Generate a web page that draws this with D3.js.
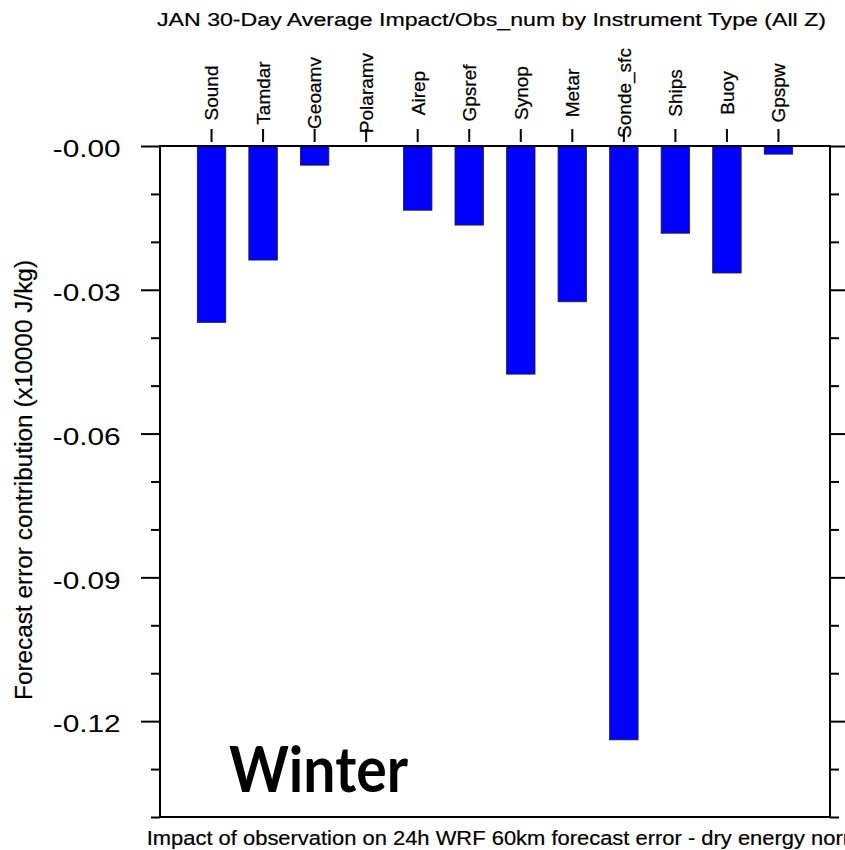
<!DOCTYPE html>
<html>
<head>
<meta charset="utf-8">
<script src="https://cdn.jsdelivr.net/npm/d3@7"></script>
<style>
  body { margin: 0; background: #fff; }
  text { font-family: "Liberation Sans", Arial, sans-serif; fill: #000; }
</style>
</head>
<body>
<div id="chart"></div>
<script>
// Data
const categories = ["Sound", "Tamdar", "Geoamv", "Polaramv", "Airep", "Gpsref",
                    "Synop", "Metar", "Sonde_sfc", "Ships", "Buoy", "Gpspw"];
const impacts = [-0.0368, -0.0238, -0.0040, 0.0, -0.0134, -0.0165,
                 -0.0476, -0.0325, -0.1239, -0.0182, -0.0265, -0.0017];
const yMajorTicks = [0, -0.03, -0.06, -0.09, -0.12];
const yMinorTicks = [-0.01, -0.02, -0.04, -0.05, -0.07, -0.08, -0.10, -0.11, -0.13, -0.14];

const titleText = "JAN 30-Day Average Impact/Obs_num by Instrument Type (All Z)";
const yLabelText = "Forecast error contribution (x10000 J/kg)";
const bottomText = "Impact of observation on 24h WRF 60km forecast error - dry energy norm";
const seasonText = "Winter";

// Plot frame
const W = 845, H = 850;
const frame = { left: 160, right: 830, top: 146, bottom: 817 };

const svg = d3.select("#chart")
    .append("svg")
    .attr("width", W)
    .attr("height", H);

// Scales
const x = d3.scaleBand()
    .domain(categories)
    .range([frame.left, frame.right])
    .paddingInner(0.447)
    .paddingOuter(0.7235);

const y = d3.scaleLinear()
    .domain([-0.14, 0])
    .range([frame.bottom, frame.top]);

// Bars
svg.append("g")
    .selectAll("rect")
    .data(categories.map((c, i) => ({ cat: c, val: impacts[i] })))
    .join("rect")
    .attr("x", d => x(d.cat))
    .attr("y", y(0))
    .attr("width", x.bandwidth())
    .attr("height", d => y(d.val) - y(0))
    .attr("fill", "#0000ff")
    .attr("stroke", "#222")
    .attr("stroke-width", 0.8);

// Frame
svg.append("rect")
    .attr("x", frame.left)
    .attr("y", frame.top)
    .attr("width", frame.right - frame.left)
    .attr("height", frame.bottom - frame.top)
    .attr("fill", "none")
    .attr("stroke", "#000")
    .attr("stroke-width", 2);

const fmt = d => "-" + d3.format(".2f")(Math.abs(d));

function styleAxis(g) {
    g.select(".domain").remove();
    g.selectAll(".tick line").attr("stroke", "#000").attr("stroke-width", 2);
}

// Left axis, major + minor
svg.append("g")
    .attr("transform", `translate(${frame.left},0)`)
    .call(d3.axisLeft(y).tickValues(yMajorTicks).tickSize(19).tickPadding(20.3).tickFormat(fmt))
    .call(styleAxis)
    .call(g => g.selectAll(".tick text")
        .attr("font-size", 24)
        .attr("font-family", "Liberation Sans, Arial, sans-serif")
        .attr("dy", "0.45em")
        .attr("textLength", 68)
        .attr("lengthAdjust", "spacingAndGlyphs"));

svg.append("g")
    .attr("transform", `translate(${frame.left},0)`)
    .call(d3.axisLeft(y).tickValues(yMinorTicks).tickSize(9).tickFormat(""))
    .call(styleAxis);

// Right axis, ticks only
svg.append("g")
    .attr("transform", `translate(${frame.right},0)`)
    .call(d3.axisRight(y).tickValues(yMajorTicks).tickSize(19).tickFormat(""))
    .call(styleAxis);

svg.append("g")
    .attr("transform", `translate(${frame.right},0)`)
    .call(d3.axisRight(y).tickValues(yMinorTicks).tickSize(9).tickFormat(""))
    .call(styleAxis);

// Top category ticks (detached from frame)
svg.append("g")
    .attr("transform", `translate(0,${frame.top - 4})`)
    .call(d3.axisTop(x).tickSize(13).tickFormat(""))
    .call(styleAxis);

// Top category labels, rotated
svg.append("g")
    .selectAll("text")
    .data(categories)
    .join("text")
    .attr("transform", d => `translate(${x(d) + x.bandwidth() / 2},93) rotate(-90)`)
    .attr("text-anchor", "middle")
    .attr("dy", "0.36em")
    .attr("font-size", 19)
    .attr("stroke", "#000")
    .attr("stroke-width", 0.25)
    .text(d => d);

// Title
svg.append("text")
    .attr("x", 491.5)
    .attr("y", 25.7)
    .attr("text-anchor", "middle")
    .attr("font-size", 18)
    .attr("stroke", "#000")
    .attr("stroke-width", 0.2)
    .attr("textLength", 669)
    .attr("lengthAdjust", "spacingAndGlyphs")
    .text(titleText);

// Y axis label
svg.append("text")
    .attr("transform", "translate(32,480) rotate(-90)")
    .attr("text-anchor", "middle")
    .attr("font-size", 23)
    .attr("stroke", "#000")
    .attr("stroke-width", 0.2)
    .attr("textLength", 440)
    .attr("lengthAdjust", "spacingAndGlyphs")
    .text(yLabelText);

// Bottom label (runs off the right edge as in the original)
svg.append("text")
    .attr("transform", "translate(146.7,845) scale(1.125,1)")
    .attr("font-size", 19.5)
    .attr("stroke", "#000")
    .attr("stroke-width", 0.2)
    .text(bottomText);

// Season annotation
svg.append("text")
    .attr("x", 229)
    .attr("y", 791.7)
    .attr("font-size", 64)
    .attr("font-weight", 700)
    .style("font-family", "Lato, 'Open Sans', sans-serif")
    .attr("textLength", 179)
    .attr("lengthAdjust", "spacingAndGlyphs")
    .text(seasonText);
</script>
</body>
</html>
